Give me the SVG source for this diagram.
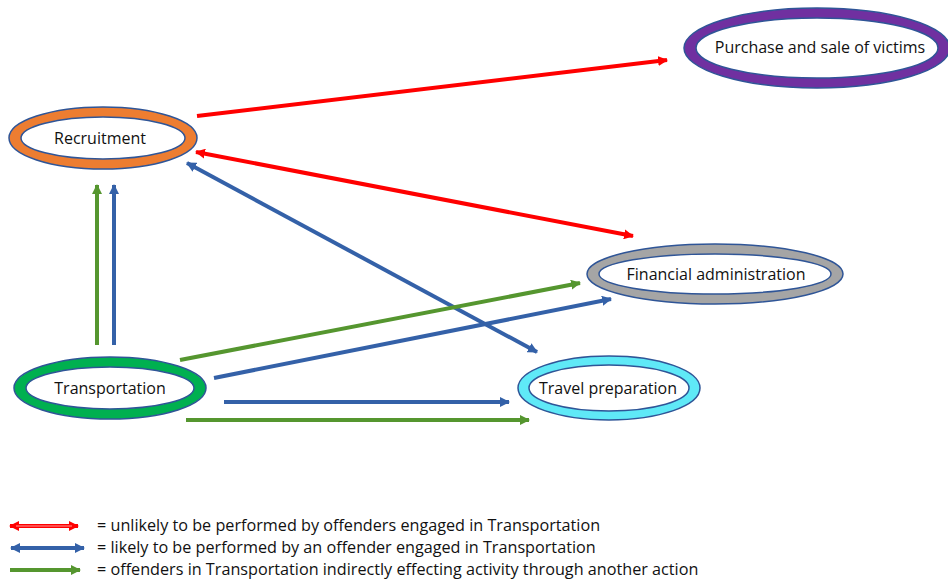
<svg xmlns="http://www.w3.org/2000/svg" width="948" height="580" viewBox="0 0 948 580">
<defs>
<style>
.lbl{font-family:"Open Sans","Liberation Sans",Arial,sans-serif;font-size:16px;fill:#111;text-anchor:middle;dominant-baseline:central}
.leg{font-family:"Open Sans","Liberation Sans",Arial,sans-serif;font-size:16.2px;fill:#111}
.outer{stroke:#2f5597;stroke-width:1.5}
.inner{fill:#fff;stroke:#2f5597;stroke-width:1.5}
.r{stroke:#ff0000;stroke-width:4;fill:none}
.b{stroke:#3461a8;stroke-width:4;fill:none}
.g{stroke:#55962f;stroke-width:4;fill:none}
</style>
<marker id="hr" viewBox="0 0 10 10" refX="9" refY="5" markerWidth="10" markerHeight="10" markerUnits="userSpaceOnUse" orient="auto-start-reverse"><path d="M0,0 L10,5 L0,10 Z" fill="#ff0000"/></marker>
<marker id="hb" viewBox="0 0 10 10" refX="9" refY="5" markerWidth="10" markerHeight="10" markerUnits="userSpaceOnUse" orient="auto-start-reverse"><path d="M0,0 L10,5 L0,10 Z" fill="#3461a8"/></marker>
<marker id="hg" viewBox="0 0 10 10" refX="9" refY="5" markerWidth="10" markerHeight="10" markerUnits="userSpaceOnUse" orient="auto-start-reverse"><path d="M0,0 L10,5 L0,10 Z" fill="#55962f"/></marker>
</defs>
<rect width="948" height="580" fill="#fff"/>

<g id="connectors">
<line class="r" x1="197" y1="116" x2="667" y2="60" marker-end="url(#hr)"/>
<line class="r" x1="196" y1="152" x2="633" y2="236" marker-start="url(#hr)" marker-end="url(#hr)"/>
<line class="b" x1="187" y1="163" x2="537" y2="352" marker-start="url(#hb)" marker-end="url(#hb)"/>
<line class="g" x1="97" y1="345" x2="97" y2="185" marker-end="url(#hg)"/>
<line class="b" x1="114" y1="345" x2="114" y2="185" marker-end="url(#hb)"/>
<line class="g" x1="180" y1="360" x2="580" y2="283" marker-end="url(#hg)"/>
<line class="b" x1="214" y1="378" x2="611" y2="299" marker-end="url(#hb)"/>
<line class="b" x1="224" y1="402" x2="509" y2="402" marker-end="url(#hb)"/>
<line class="g" x1="186" y1="420" x2="529" y2="420" marker-end="url(#hg)"/>
</g>

<g id="recruitment">
<ellipse class="outer" cx="103" cy="138" rx="94" ry="31" fill="#ed7d31"/>
<ellipse class="inner" cx="103" cy="138" rx="82" ry="21"/>
<text class="lbl" x="100" y="138">Recruitment</text>
</g>

<g id="purchase">
<ellipse class="outer" cx="817" cy="48" rx="133" ry="40" fill="#7030a0"/>
<ellipse class="inner" cx="817" cy="48" rx="121" ry="30"/>
<text class="lbl" x="820" y="47">Purchase and sale of victims</text>
</g>

<g id="financial">
<ellipse class="outer" cx="715" cy="274" rx="128" ry="30" fill="#a5a5a5"/>
<ellipse class="inner" cx="715" cy="274" rx="116" ry="20"/>
<text class="lbl" x="716" y="274">Financial administration</text>
</g>

<g id="transportation">
<ellipse class="outer" cx="110" cy="388" rx="96" ry="31" fill="#00b050"/>
<ellipse class="inner" cx="110" cy="388" rx="84" ry="21"/>
<text class="lbl" x="110" y="388">Transportation</text>
</g>

<g id="travel">
<ellipse class="outer" cx="609" cy="388" rx="91" ry="32" fill="#5fe9f7"/>
<ellipse class="inner" cx="609" cy="388" rx="80" ry="23"/>
<text class="lbl" x="608" y="388">Travel preparation</text>
</g>

<g id="legend">
<line class="r" x1="10" y1="526" x2="78" y2="526" marker-start="url(#hr)" marker-end="url(#hr)"/>
<line x1="16" y1="526" x2="72" y2="526" stroke="#ff9a9a" stroke-width="1.2"/>
<line class="b" x1="11" y1="548" x2="84" y2="548" marker-start="url(#hb)" marker-end="url(#hb)"/>
<line class="g" x1="10" y1="570" x2="80" y2="570" marker-end="url(#hg)"/>
<text class="leg" x="97" y="531">= unlikely to be performed by offenders engaged in Transportation</text>
<text class="leg" x="97" y="553">= likely to be performed by an offender engaged in Transportation</text>
<text class="leg" x="97" y="575">= offenders in Transportation indirectly effecting activity through another action</text>
</g>
</svg>
